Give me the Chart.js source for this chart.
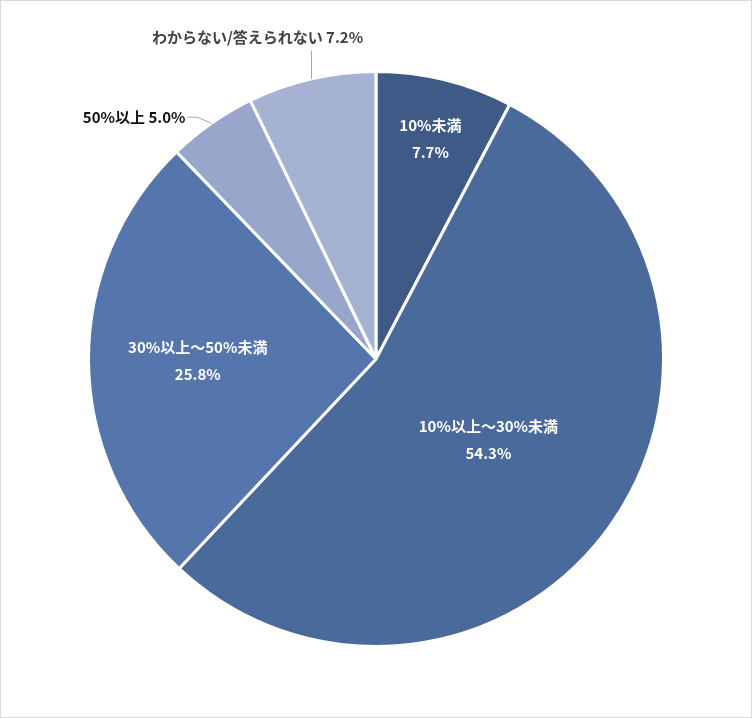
<!DOCTYPE html>
<html><head><meta charset="utf-8">
<script src="https://cdn.jsdelivr.net/npm/chart.js@4"></script>
<style>
body{margin:0;background:#fff}
#wrap{width:750px;height:716px;border:1px solid #d9d9d9;position:relative}
</style></head>
<body><div id="wrap"><canvas id="c"></canvas></div>
<script>
const categories = ["10%未満", "10%以上～30%未満", "30%以上～50%未満", "50%以上", "わからない/答えられない"]
const values = [7.7, 54.3, 25.8, 5.0, 7.2]
const colors = ["#3f5a87", "#4a6a9c", "#5576ad", "#98a6cb", "#a6b2d2"]
// label placement: inside (radius fraction) or outside
const labelStyle = [
  { inside: true, f: 0.79 },
  { inside: true, f: 0.48 },
  { inside: true, f: 0.62 },
  { inside: false, dx: -14, dy: -6, align: "right" },
  { inside: false, dx: 0, dy: -28, align: "center", textDx: -54 }
]

const labelPlugin = {
  id: "labels",
  afterDatasetsDraw(chart) {
    const ctx = chart.ctx
    chart.getDatasetMeta(0).data.forEach((arc, i) => {
      const mid = (arc.startAngle + arc.endAngle) / 2
      const st = labelStyle[i]
      ctx.save()
      ctx.font = "bold 15px 'Noto Sans CJK JP', sans-serif"
      if (st.inside) {
        const r = arc.outerRadius * st.f
        const x = arc.x + Math.cos(mid) * r, y = arc.y + Math.sin(mid) * r
        ctx.fillStyle = "#fff"
        ctx.textAlign = "center"
        ctx.textBaseline = "middle"
        ctx.fillText(categories[i], x, y - 13)
        ctx.fillText(values[i].toFixed(1) + "%", x, y + 14)
      } else {
        const x0 = arc.x + Math.cos(mid) * arc.outerRadius, y0 = arc.y + Math.sin(mid) * arc.outerRadius
        const x1 = x0 + st.dx, y1 = y0 + st.dy
        ctx.strokeStyle = "#a6a6a6"
        ctx.lineWidth = 1
        ctx.beginPath(); ctx.moveTo(x0, y0); ctx.lineTo(x1, y1)
        if (st.align === "right") ctx.lineTo(x1 - 10, y1)
        ctx.stroke()
        ctx.fillStyle = i === 3 ? "#111" : "#404040"
        ctx.textBaseline = "middle"
        const txt = categories[i] + " " + values[i].toFixed(1) + "%"
        if (st.align === "right") { ctx.textAlign = "right"; ctx.fillText(txt, x1 - 12, y1) }
        else { ctx.textAlign = "center"; ctx.fillText(txt, x1 + st.textDx, y1 - 14) }
      }
      ctx.restore()
    })
  }
}

new Chart(document.getElementById("c"), {
  type: "pie",
  data: {
    labels: categories,
    datasets: [{ data: values, backgroundColor: colors, borderColor: "#fff", borderWidth: 3 }]
  },
  options: {
    responsive: true,
    maintainAspectRatio: false,
    animation: false,
    layout: { padding: { left: 86, right: 86, top: 69, bottom: 69 } },
    plugins: { legend: { display: false }, tooltip: { enabled: false } }
  },
  plugins: [labelPlugin]
})
</script></body></html>
